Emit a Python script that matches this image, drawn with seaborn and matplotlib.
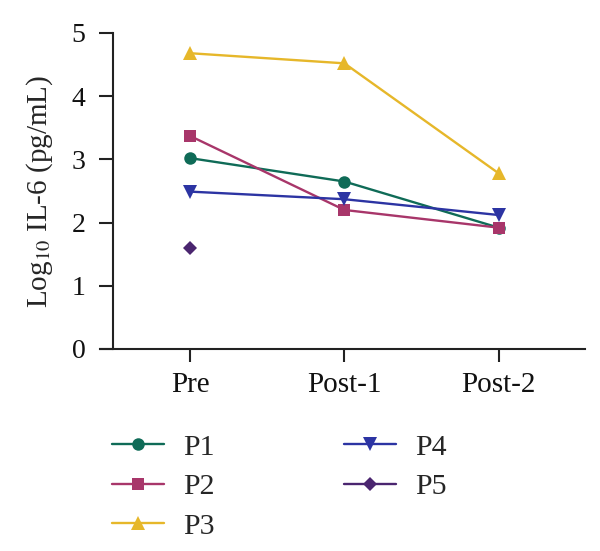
import numpy as np
import pandas as pd
import seaborn as sns
import matplotlib.pyplot as plt

# timepoints and per-patient log10 IL-6 values
timepoints = ["Pre", "Post-1", "Post-2"]
patients = ["P1", "P2", "P3", "P4", "P5"]
p1 = [3.02, 2.65, 1.92]
p2 = [3.37, 2.20, 1.92]
p3 = [4.68, 4.52, 2.78]
p4 = [2.49, 2.37, 2.12]
p5 = [1.60, np.nan, np.nan]

colors = {"P1": "#0f6b57", "P2": "#a8366a", "P3": "#e6b72a", "P4": "#2c34a3", "P5": "#4a256f"}
markers = {"P1": "o", "P2": "s", "P3": "^", "P4": "v", "P5": "D"}
msizes = {"P1": 9, "P2": 9, "P3": 9.5, "P4": 9.5, "P5": 7}

rows = []
for name, vals in zip(patients, [p1, p2, p3, p4, p5]):
    for t, v in zip(timepoints, vals):
        rows.append({"time": t, "value": v, "patient": name})
df = pd.DataFrame(rows)

sns.set_style("ticks")
plt.rcParams["font.family"] = ["Liberation Serif", "DejaVu Serif"]
plt.rcParams["mathtext.fontset"] = "stix"

fig = plt.figure(figsize=(6, 5.51), dpi=100)
ax = fig.add_axes([100 / 600, 1 - 349 / 551, 485 / 600, (349 - 33) / 551])

sns.lineplot(data=df, x="time", y="value", hue="patient", style="patient",
             palette=colors, markers=markers, dashes=False, sort=False,
             markeredgewidth=0, linewidth=1.7, ax=ax, legend=False)

# per-line marker sizes
for line, name in zip(ax.lines, patients):
    line.set_markersize(msizes[name])

ax.set_xlim(-0.585, 2.56)
ax.set_ylim(0, 5)
ax.set_yticks([0, 1, 2, 3, 4, 5])
ax.spines["left"].set_position(("data", -0.5))
ax.spines["top"].set_visible(False)
ax.spines["right"].set_visible(False)
for s in ["left", "bottom"]:
    ax.spines[s].set_linewidth(1.5)
    ax.spines[s].set_color("#222222")
ax.tick_params(axis="both", width=1.5, color="#222222", labelcolor="#111111")
ax.tick_params(axis="y", length=10, pad=10, labelsize=20)
ax.tick_params(axis="x", length=9.5, pad=7, labelsize=21)
ax.set_xlabel("")
ax.set_ylabel("Log$_{10}$ IL-6 (pg/mL)", fontsize=21, labelpad=12)

handles = []
for name in patients:
    h, = ax.plot([], [], color=colors[name], marker=markers[name],
                 markersize=msizes[name], markeredgewidth=0, linewidth=1.7)
    handles.append(h)
fig.legend(handles, patients, loc="upper left", bbox_to_anchor=(112 / 600, 1 - 434 / 551),
           ncol=2, frameon=False, fontsize=21.5, handlelength=1.74, labelspacing=0.42,
           columnspacing=4.35, borderpad=0, borderaxespad=0, handletextpad=0.63)

fig.savefig("out.png", dpi=100)
